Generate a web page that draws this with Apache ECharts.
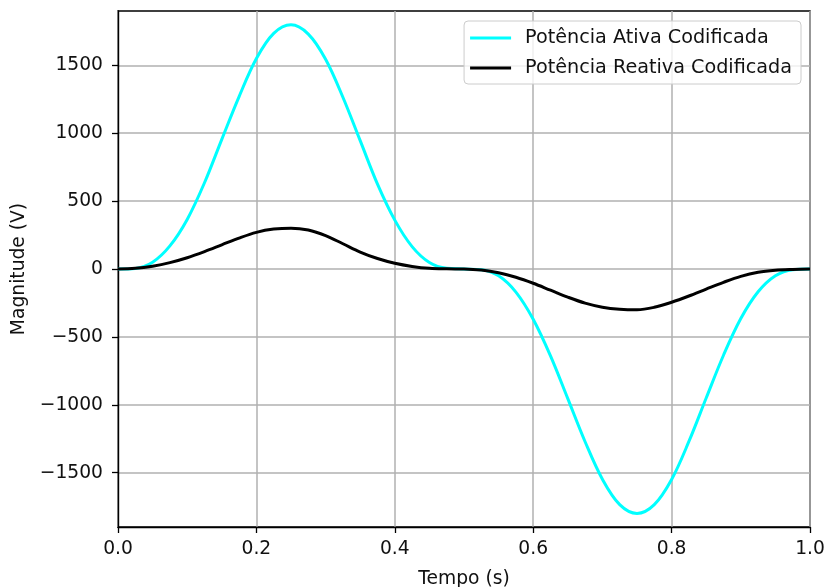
<!DOCTYPE html>
<html>
<head>
<meta charset="utf-8">
<script src="https://cdn.jsdelivr.net/npm/echarts@6/dist/echarts.min.js"></script>
<style>
  html, body { margin: 0; padding: 0; background: #fff; }
  #chart { width: 827px; height: 587px; }
</style>
</head>
<body>
<div id="chart"></div>
<script>
// Sample instants (s)
const times = [
  0.000, 0.025, 0.050, 0.075, 0.100, 0.125, 0.150, 0.175, 0.200, 0.225,
  0.250, 0.275, 0.300, 0.325, 0.350, 0.375, 0.400, 0.425, 0.450, 0.475,
  0.500, 0.525, 0.550, 0.575, 0.600, 0.625, 0.650, 0.675, 0.700, 0.725,
  0.750, 0.775, 0.800, 0.825, 0.850, 0.875, 0.900, 0.925, 0.950, 0.975,
  1.000
];

// Coded active power (V)
const activePower = [
  0, 4, 50, 170, 365, 635, 955, 1270, 1550, 1735,
  1798, 1730, 1545, 1265, 945, 625, 360, 165, 48, 5,
  0, -5, -50, -170, -370, -640, -955, -1272, -1548, -1735,
  -1800, -1735, -1550, -1270, -950, -635, -365, -168, -50, -5,
  0
];

// Coded reactive power (V)
const reactivePower = [
  0, 5, 21, 47, 83, 128, 178, 228, 270, 294,
  301, 287, 246, 186, 125, 77, 42, 19, 5, 1,
  0, -8, -28, -61, -105, -156, -207, -251, -281, -296,
  -300, -282, -245, -199, -148, -98, -54, -24, -9, -3,
  0
];

const yTickValues = [-1500, -1000, -500, 0, 500, 1000, 1500];
const seriesNames = ['Potência Ativa Codificada', 'Potência Reativa Codificada'];

const FONT = 'DejaVu Sans';
const FS = 18.7;

const toPairs = (vals) => times.map((t, i) => [t, vals[i]]);
const minusFmt = (v) => (v < 0 ? '\u2212' + Math.abs(v) : String(v));

const chart = echarts.init(document.getElementById('chart'), null, { renderer: 'canvas' });

chart.setOption({
  animation: false,
  backgroundColor: '#ffffff',
  textStyle: { fontFamily: FONT },
  grid: {
    left: 118, right: 17, top: 11, bottom: 60,
    containLabel: false,
    outerBoundsMode: 'none',
    show: true, borderColor: '#000', borderWidth: 1.4, backgroundColor: 'transparent'
  },
  legend: {
    data: seriesNames,
    right: 26, top: 21,
    orient: 'vertical',
    icon: 'rect',
    itemWidth: 41, itemHeight: 3,
    itemGap: 8,
    padding: [6, 9, 5, 6],
    backgroundColor: 'rgba(255,255,255,0.8)',
    borderColor: '#cccccc', borderWidth: 1, borderRadius: 4,
    textStyle: {
      fontFamily: FONT, fontSize: 19.2, color: '#111',
      lineHeight: 22, padding: [0, 0, 0, 9]
    }
  },
  xAxis: {
    type: 'value',
    min: 0, max: 1, interval: 0.2,
    name: 'Tempo (s)',
    nameLocation: 'middle',
    nameGap: 43,
    nameTextStyle: { fontFamily: FONT, fontSize: FS, color: '#111' },
    axisLine: { show: true, onZero: false, lineStyle: { color: '#000', width: 1.4 } },
    axisTick: { show: true, length: 6, lineStyle: { color: '#000', width: 1.3 } },
    axisLabel: {
      fontFamily: FONT, fontSize: FS, color: '#111', margin: 13,
      formatter: (v) => v.toFixed(1)
    },
    splitLine: { show: true, lineStyle: { color: '#b0b0b0', width: 1.5 } }
  },
  yAxis: {
    type: 'value',
    min: -1900, max: 1900, splitNumber: 8,
    name: 'Magnitude (V)',
    nameLocation: 'middle',
    nameGap: 88,
    nameRotate: 90,
    nameTextStyle: { fontFamily: FONT, fontSize: FS, color: '#111' },
    axisLine: { show: true, onZero: false, lineStyle: { color: '#000', width: 1.4 } },
    axisTick: { show: true, length: 6, customValues: yTickValues, lineStyle: { color: '#000', width: 1.3 } },
    axisLabel: {
      fontFamily: FONT, fontSize: FS, color: '#111', margin: 15,
      customValues: yTickValues,
      formatter: minusFmt
    },
    splitLine: { show: true, lineStyle: { color: '#b0b0b0', width: 1.5 } }
  },
  series: [
    {
      name: seriesNames[0],
      type: 'line',
      data: toPairs(activePower),
      smooth: 0.35,
      showSymbol: false,
      color: '#00ffff',
      lineStyle: { color: '#00ffff', width: 3 },
      z: 2
    },
    {
      name: seriesNames[1],
      type: 'line',
      data: toPairs(reactivePower),
      smooth: 0.35,
      showSymbol: false,
      color: '#000000',
      lineStyle: { color: '#000000', width: 3 },
      z: 3
    }
  ]
});
</script>
</body>
</html>
